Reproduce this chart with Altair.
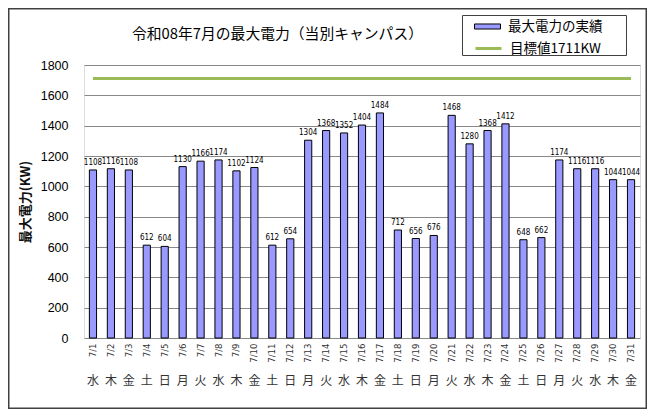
import altair as alt
import pandas as pd

dates = ["7/1", "7/2", "7/3", "7/4", "7/5", "7/6", "7/7", "7/8", "7/9", "7/10",
         "7/11", "7/12", "7/13", "7/14", "7/15", "7/16", "7/17", "7/18", "7/19", "7/20",
         "7/21", "7/22", "7/23", "7/24", "7/25", "7/26", "7/27", "7/28", "7/29", "7/30", "7/31"]
weekdays = ["水", "木", "金", "土", "日", "月", "火", "水", "木", "金",
            "土", "日", "月", "火", "水", "木", "金", "土", "日", "月",
            "火", "水", "木", "金", "土", "日", "月", "火", "水", "木", "金"]
peak_kw = [1108, 1116, 1108, 612, 604, 1130, 1166, 1174, 1102, 1124,
           612, 654, 1304, 1368, 1352, 1404, 1484, 712, 656, 676,
           1468, 1280, 1368, 1412, 648, 662, 1174, 1116, 1116, 1044, 1044]
target_kw = 1711
series_names = ["最大電力の実績", "目標値1711KW"]
series_colors = ["#9999ff", "#9bbb59"]
y_ticks = [0, 200, 400, 600, 800, 1000, 1200, 1400, 1600, 1800]
chart_title = "令和08年7月の最大電力（当別キャンパス）"

df = pd.DataFrame({"date": dates, "weekday": weekdays, "kw": peak_kw, "series": series_names[0]})
target_df = pd.DataFrame({"date": dates, "kw": [target_kw] * len(dates), "series": series_names[1]})

JP = "Noto Sans CJK JP"
NUM = "Liberation Sans"
NARROW = "'Liberation Sans Narrow', 'DejaVu Sans Condensed', 'Liberation Sans', sans-serif"

W, H = 556, 273
PAD = {"left": 76, "top": 57, "right": 7, "bottom": 71}

x_scale = alt.Scale(domain=dates, paddingInner=0.6, paddingOuter=0.3)
y_scale = alt.Scale(domain=[0, 1800], nice=False)

y_axis = alt.Axis(
    title="最大電力(KW)", values=y_ticks, format="d", ticks=False, domain=False,
    labelFont=NUM, labelFontSize=12.5, labelColor="black", labelPadding=16,
    grid=True, gridColor="#888888", gridWidth=1,
    titleFont=JP, titleFontSize=13, titleFontWeight="bold", titleColor="#111111",
    titleAngle=270, titleX=-59, titleY=H / 2, titleAlign="center", titleBaseline="middle",
)

date_axis = alt.Axis(
    title=None, orient="bottom", labelAngle=270, labelFont=NARROW, labelFontSize=9.5,
    labelColor="#333333", labelPadding=5, ticks=False, domain=False, grid=False,
)

wd_list = "[" + ",".join("'" + w + "'" for w in weekdays) + "]"
date_list = "[" + ",".join("'" + d + "'" for d in dates) + "]"
weekday_axis = alt.Axis(
    title=None, orient="bottom", labelAngle=0, labelFont=JP, labelFontSize=12,
    labelColor="#333333", labelPadding=37, labelBaseline="top",
    ticks=False, domain=False, grid=False,
    labelExpr=f"{wd_list}[indexof({date_list}, datum.value)]",
)

LEG_X = 396
common_legend = dict(
    title=None, orient="none", padding=0,
    labelFont=JP, labelFontSize=13.5, labelColor="black", labelOffset=13,
    symbolSize=196,
)
bar_legend = alt.Legend(
    legendX=LEG_X, legendY=-46,
    symbolType="M-1.857,-0.36H1.857V0.36H-1.857Z",
    symbolStrokeColor="black", symbolStrokeWidth=1, symbolOpacity=1,
    **common_legend,
)
line_legend = alt.Legend(
    legendX=LEG_X, legendY=-25,
    symbolType="M-1.857,0H1.857", symbolStrokeWidth=3, symbolOpacity=1,
    **common_legend,
)

one_row = pd.DataFrame({"f": [0]})

frame = alt.Chart(one_row).mark_rect(
    fill="white", fillOpacity=0, stroke="#404040", strokeWidth=1.5
).encode(
    x=alt.value(-PAD["left"] + 0.75), x2=alt.value(W + PAD["right"] - 0.75),
    y=alt.value(-PAD["top"] + 0.75), y2=alt.value(H + PAD["bottom"] - 0.75),
)

legend_box = alt.Chart(one_row).mark_rect(
    fill="white", stroke="#404040", strokeWidth=1
).encode(
    x=alt.value(378.5), x2=alt.value(542.5), y=alt.value(-49.5), y2=alt.value(-9.5),
)

title_text = alt.Chart(one_row).mark_text(
    align="left", baseline="middle", font=JP, fontSize=14.8, color="black"
).encode(
    x=alt.value(48), y=alt.value(-30), text=alt.value(chart_title),
)

bars = alt.Chart(df).mark_bar(stroke="black", strokeWidth=1).encode(
    x=alt.X("date:N", scale=x_scale, sort=dates, axis=date_axis),
    y=alt.Y("kw:Q", scale=y_scale, axis=y_axis),
    fill=alt.Fill("series:N", scale=alt.Scale(domain=[series_names[0]], range=[series_colors[0]]),
                  legend=bar_legend),
)

line = alt.Chart(target_df).mark_line(strokeWidth=3).encode(
    x=alt.X("date:N", scale=x_scale, sort=dates, axis=None),
    y=alt.Y("kw:Q", scale=y_scale, axis=y_axis),
    stroke=alt.Stroke("series:N", scale=alt.Scale(domain=[series_names[1]], range=[series_colors[1]]),
                      legend=line_legend),
)

labels = alt.Chart(df).mark_text(
    baseline="bottom", dy=-3, fontSize=8, font=NARROW, color="black"
).encode(
    x=alt.X("date:N", scale=x_scale, sort=dates, axis=weekday_axis),
    y=alt.Y("kw:Q", scale=y_scale, axis=y_axis),
    text=alt.Text("kw:Q"),
)

chart = alt.layer(frame, legend_box, title_text, bars, line, labels).resolve_axis(
    x="independent"
).properties(
    width=W, height=H,
    autosize=alt.AutoSizeParams(type="none"),
    padding=PAD,
).configure_view(stroke="black", strokeWidth=1).configure(background="white")

chart.save("out.html", embed_options={"renderer": "svg", "actions": False})
